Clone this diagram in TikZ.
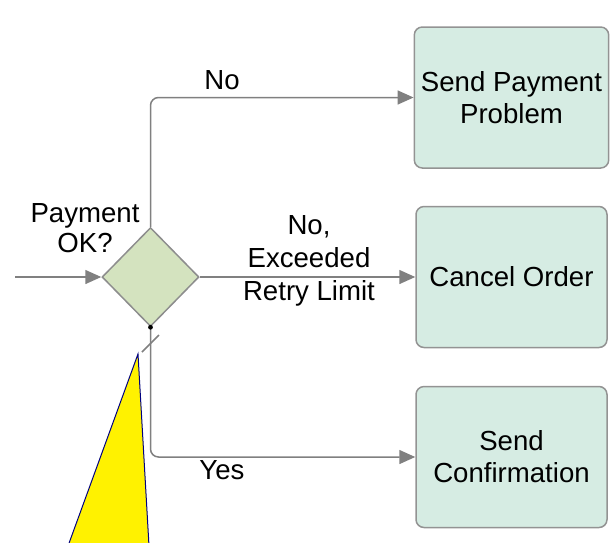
\documentclass[tikz,border=0pt]{standalone}
\usepackage{fontspec}
\setmainfont{Liberation Sans}
\usetikzlibrary{shapes.geometric,arrows.meta,positioning}
\definecolor{fondTache}{HTML}{D6ECE3}
\definecolor{fondChoix}{HTML}{D4E3BF}
\definecolor{trait}{HTML}{808080}
\tikzset{
    tache/.style={draw=trait!85, line width=0.75pt, fill=fondTache, rounded corners=4pt,
      minimum width=95.5pt, minimum height=70.5pt, align=center,
      font=\fontsize{13.8}{16}\selectfont},
    choix/.style={diamond, draw=trait!90, line width=0.75pt, fill=fondChoix,
      minimum width=48.5pt, minimum height=49.5pt, inner sep=0pt},
    fleche/.style={draw=trait, line width=0.75pt, -{Triangle[length=8pt,width=7pt]}},
    etiquette/.style={align=center, font=\fontsize{13.8}{15}\selectfont},
  }
\begin{document}
\begin{tikzpicture}[x=0.5pt,y=-0.5pt]
				  %cadre en pixels de la capture
				  \useasboundingbox (0,0) rectangle (614,542);
				  \clip (0,0) rectangle (614,542);
				  \coordinate(E) at (15,277);
				  \node[choix](C) at (150.5,277) {};
				  \node[tache](T1) at (511.5,97.5) {Send Payment\\Problem};
				  \node[tache](T2) at (511.5,277) {Cancel Order};
				  \node[tache](T3) at (511.5,457) {Send\\Confirmation};

				  \draw[fleche] (E) -- (C.west);
				  \draw[fleche, rounded corners=4pt] (C.north) |- (T1.west);
				  \draw[fleche] (C.east) -- (T2.west);
				  \draw[fleche, rounded corners=4pt] (C.south) |- (T3.west);
				  %flux par defaut
				  \fill (C.south) circle (1.2pt);
				  \draw[trait, line width=0.75pt] (142,352) coordinate(S1) -- (159,335) coordinate(S2);

				  \node[etiquette](Q) at (85,228) {Payment\\OK?};
				  \node[etiquette](N1) at (222,80) {No};
				  \node[etiquette,font=\fontsize{13.8}{16.5}\selectfont](N2) at (309,261) {No,\\Exceeded\\Retry Limit};
				  \node[etiquette](O) at (222,470) {Yes};

				  \draw[draw=blue!50!black, line width=0.5pt, fill=yellow] (138,354) -- (68,546) -- (149,546) -- cycle;
				  \end{tikzpicture}
\end{document}
